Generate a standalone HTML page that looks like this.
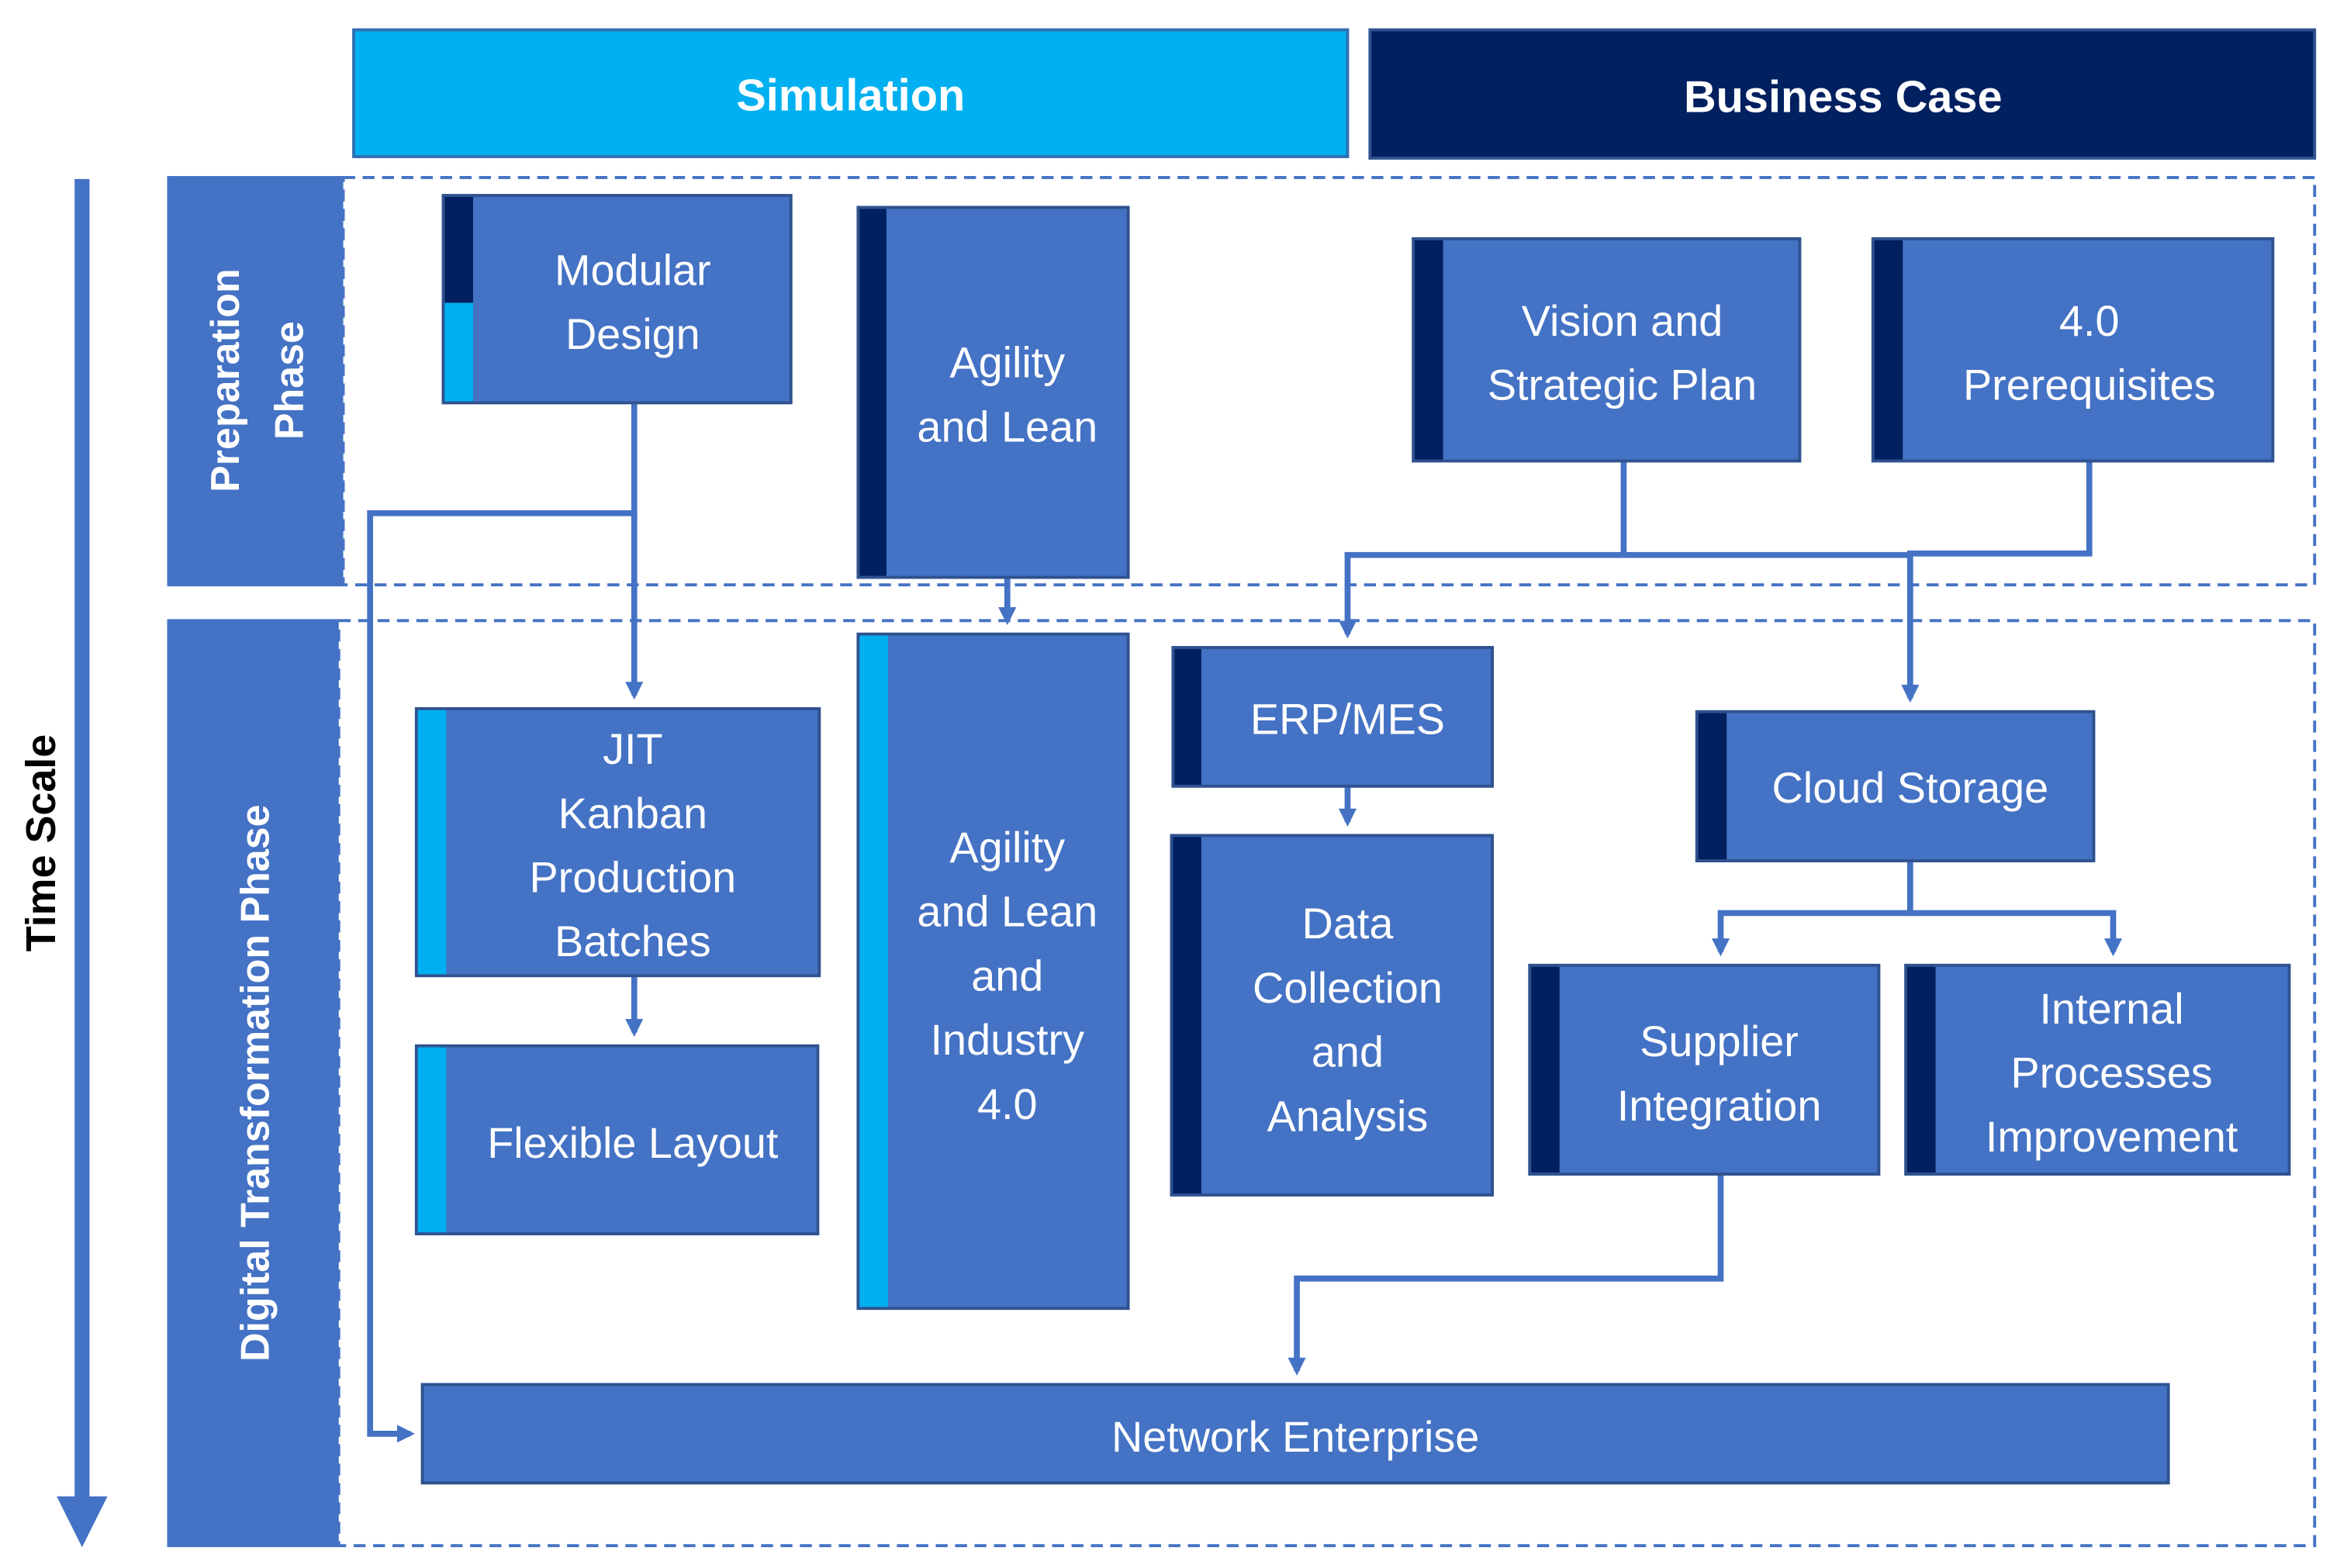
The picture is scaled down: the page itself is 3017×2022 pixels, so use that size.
<!DOCTYPE html>
<html><head><meta charset="utf-8"><style>html,body{margin:0;padding:0;background:#fff}svg{display:block}</style></head><body>
<svg width="3017" height="2022" viewBox="0 0 1568 1051" preserveAspectRatio="none" xmlns="http://www.w3.org/2000/svg" font-family="Liberation Sans, sans-serif">
<defs>
<marker id="a" markerWidth="12" markerHeight="12" refX="9" refY="6" orient="auto" markerUnits="userSpaceOnUse"><path d="M0,0 L12,6 L0,12 z" fill="#4472C4"/></marker>
</defs>
<rect x="237" y="20" width="666" height="85" fill="#00B0F0" stroke="#2F6FB0" stroke-width="2"/>
<text x="570" y="74" font-size="30" font-weight="bold" fill="#fff" text-anchor="middle">Simulation</text>
<rect x="918" y="20" width="633" height="86" fill="#002060" stroke="#2F528F" stroke-width="2"/>
<text x="1235" y="75" font-size="30" font-weight="bold" fill="#fff" text-anchor="middle">Business Case</text>
<rect x="50" y="120" width="10" height="885" fill="#4472C4"/>
<path d="M38,1003 L72,1003 L55,1037 z" fill="#4472C4"/>
<text transform="translate(37,565) rotate(-90)" font-size="28" font-weight="bold" fill="#000" text-anchor="middle">Time Scale</text>
<rect x="112" y="118" width="118" height="275" fill="#4472C4"/>
<rect x="230" y="119" width="1321" height="273" fill="none" stroke="#4472C4" stroke-width="2" stroke-dasharray="8,5"/>
<text transform="translate(160,255) rotate(-90)" font-size="27" font-weight="bold" fill="#fff" text-anchor="middle">Preparation</text>
<text transform="translate(203,255) rotate(-90)" font-size="27" font-weight="bold" fill="#fff" text-anchor="middle">Phase</text>
<rect x="112" y="415" width="115" height="622" fill="#4472C4"/>
<rect x="227" y="416" width="1324" height="620" fill="none" stroke="#4472C4" stroke-width="2" stroke-dasharray="8,5"/>
<text transform="translate(180,726) rotate(-90)" font-size="27" font-weight="bold" fill="#fff" text-anchor="middle">Digital Transformation Phase</text>
<g fill="none" stroke="#4472C4" stroke-width="4">
<path d="M425,270 V344 H248 V961 H275" marker-end="url(#a)"/>
<path d="M425,344 V466" marker-end="url(#a)"/>
<path d="M675,387 V416" marker-end="url(#a)"/>
<path d="M425,654 V692" marker-end="url(#a)"/>
<path d="M1088,309 V372 H903 V425" marker-end="url(#a)"/>
<path d="M1088,372 H1280"/>
<path d="M1400,309 V371 H1280 V468" marker-end="url(#a)"/>
<path d="M903,527 V551" marker-end="url(#a)"/>
<path d="M1280,577 V612 H1153 V638" marker-end="url(#a)"/>
<path d="M1280,612 H1416 V638" marker-end="url(#a)"/>
<path d="M1153,787 V857 H869 V919" marker-end="url(#a)"/>
</g>
<g stroke="#2F528F" stroke-width="2" fill="#4472C4">
<rect x="297" y="131" width="233" height="139"/>
<rect x="575" y="139" width="181" height="248"/>
<rect x="947" y="160" width="259" height="149"/>
<rect x="1255" y="160" width="268" height="149"/>
<rect x="279" y="475" width="270" height="179"/>
<rect x="279" y="701" width="269" height="126"/>
<rect x="575" y="425" width="181" height="452"/>
<rect x="786" y="434" width="214" height="93"/>
<rect x="785" y="560" width="215" height="241"/>
<rect x="1137" y="477" width="266" height="100"/>
<rect x="1025" y="647" width="234" height="140"/>
<rect x="1277" y="647" width="257" height="140"/>
<rect x="283" y="928" width="1170" height="66"/>
</g>
<rect x="298" y="132" width="19" height="71" fill="#002060"/>
<rect x="298" y="203" width="19" height="66" fill="#00B0F0"/>
<rect x="576" y="140" width="18" height="246" fill="#002060"/>
<rect x="948" y="161" width="19" height="147" fill="#002060"/>
<rect x="1256" y="161" width="19" height="147" fill="#002060"/>
<rect x="280" y="476" width="19" height="177" fill="#00B0F0"/>
<rect x="280" y="702" width="19" height="124" fill="#00B0F0"/>
<rect x="576" y="426" width="19" height="450" fill="#00B0F0"/>
<rect x="787" y="435" width="18" height="91" fill="#002060"/>
<rect x="786" y="561" width="19" height="239" fill="#002060"/>
<rect x="1138" y="478" width="19" height="98" fill="#002060"/>
<rect x="1026" y="648" width="19" height="138" fill="#002060"/>
<rect x="1278" y="648" width="19" height="138" fill="#002060"/>
<g fill="#fff" font-size="29" text-anchor="middle">
<text x="424" y="191">Modular</text><text x="424" y="234">Design</text>
<text x="675" y="253">Agility</text><text x="675" y="296">and Lean</text>
<text x="1087" y="225">Vision and</text><text x="1087" y="268">Strategic Plan</text>
<text x="1400" y="225">4.0</text><text x="1400" y="268">Prerequisites</text>
<text x="424" y="512">JIT</text><text x="424" y="555">Kanban</text><text x="424" y="598">Production</text><text x="424" y="641">Batches</text>
<text x="424" y="776">Flexible Layout</text>
<text x="675" y="578">Agility</text><text x="675" y="621">and Lean</text><text x="675" y="664">and</text><text x="675" y="707">Industry</text><text x="675" y="750">4.0</text>
<text x="903" y="492">ERP/MES</text>
<text x="903" y="629">Data</text><text x="903" y="672">Collection</text><text x="903" y="715">and</text><text x="903" y="758">Analysis</text>
<text x="1280" y="538">Cloud Storage</text>
<text x="1152" y="708">Supplier</text><text x="1152" y="751">Integration</text>
<text x="1415" y="686">Internal</text><text x="1415" y="729">Processes</text><text x="1415" y="772">Improvement</text>
<text x="868" y="973">Network Enterprise</text>
</g>
</svg>
</body></html>
